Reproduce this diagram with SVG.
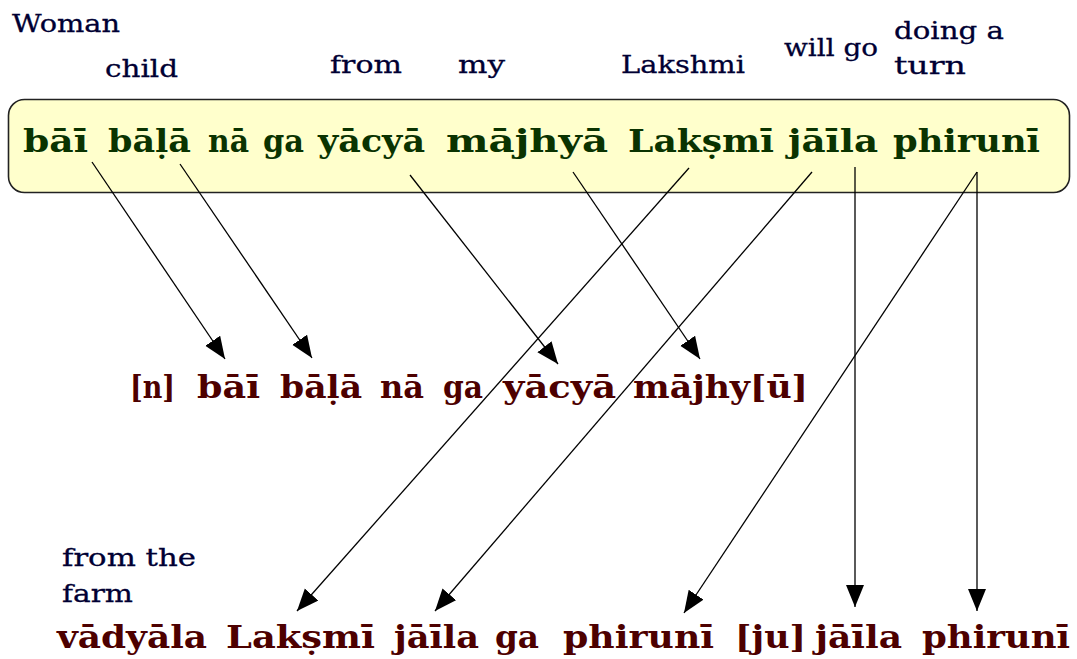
<svg xmlns="http://www.w3.org/2000/svg" width="1077" height="659" viewBox="0 0 1077 659">
<style>
.lbl{font-family:"DejaVu Serif","Liberation Serif",serif;font-size:25px;fill:#000033;stroke:#000033;stroke-width:0.3;}
.row text{font-family:"DejaVu Serif","Liberation Serif",serif;font-size:32px;font-weight:bold;}
.top text{fill:#0a3300;}
.red text{fill:#4d0000;}
.ln{stroke:#000;stroke-width:1.3;fill:none;marker-end:url(#ah);}
</style>
<defs>
<marker id="ah" markerUnits="userSpaceOnUse" markerWidth="24" markerHeight="20" refX="22" refY="9" orient="auto">
<path d="M0,0 L22,9 L0,18 Z" fill="#000"/>
</marker>
</defs>
<rect width="1077" height="659" fill="#fff"/>
<g id="box" class="row top">
<rect x="8.5" y="99.5" width="1061" height="93" rx="16" ry="16" fill="#ffffcc" stroke="#222" stroke-width="1.6"/>
<text x="23" y="152" textLength="65" lengthAdjust="spacingAndGlyphs">bāī</text>
<text x="108" y="152" textLength="83" lengthAdjust="spacingAndGlyphs">bāḷā</text>
<text x="208" y="152" textLength="41" lengthAdjust="spacingAndGlyphs">nā</text>
<text x="263" y="152" textLength="41" lengthAdjust="spacingAndGlyphs">ga</text>
<text x="318" y="152" textLength="107" lengthAdjust="spacingAndGlyphs">yācyā</text>
<text x="446" y="152" textLength="162" lengthAdjust="spacingAndGlyphs">mājhyā</text>
<text x="628" y="152" textLength="146" lengthAdjust="spacingAndGlyphs">Lakṣmī</text>
<text x="788" y="152" textLength="90" lengthAdjust="spacingAndGlyphs">jāīla</text>
<text x="893" y="152" textLength="147" lengthAdjust="spacingAndGlyphs">phirunī</text>
</g>
<g id="labels">
<text class="lbl" x="12" y="32" textLength="108" lengthAdjust="spacingAndGlyphs">Woman</text>
<text class="lbl" x="105" y="77" textLength="73" lengthAdjust="spacingAndGlyphs">child</text>
<text class="lbl" x="330" y="73" textLength="72" lengthAdjust="spacingAndGlyphs">from</text>
<text class="lbl" x="458" y="73" textLength="47" lengthAdjust="spacingAndGlyphs">my</text>
<text class="lbl" x="621" y="73" textLength="124" lengthAdjust="spacingAndGlyphs">Lakshmi</text>
<text class="lbl" x="784" y="56" textLength="94" lengthAdjust="spacingAndGlyphs">will go</text>
<text class="lbl" x="894" y="39" textLength="110" lengthAdjust="spacingAndGlyphs">doing a</text>
<text class="lbl" x="894" y="74" textLength="72" lengthAdjust="spacingAndGlyphs">turn</text>
<text class="lbl" x="62" y="566" textLength="134" lengthAdjust="spacingAndGlyphs">from the</text>
<text class="lbl" x="62" y="602" textLength="71" lengthAdjust="spacingAndGlyphs">farm</text>
</g>
<g id="middle" class="row red">
<text x="130" y="398" textLength="45" lengthAdjust="spacingAndGlyphs">[n]</text>
<text x="197" y="398" textLength="63" lengthAdjust="spacingAndGlyphs">bāī</text>
<text x="280" y="398" textLength="82" lengthAdjust="spacingAndGlyphs">bāḷā</text>
<text x="380" y="398" textLength="44" lengthAdjust="spacingAndGlyphs">nā</text>
<text x="443" y="398" textLength="40" lengthAdjust="spacingAndGlyphs">ga</text>
<text x="503" y="398" textLength="113" lengthAdjust="spacingAndGlyphs">yācyā</text>
<text x="633" y="398" textLength="175" lengthAdjust="spacingAndGlyphs">mājhy[ū]</text>
</g>
<g id="bottom" class="row red">
<text x="57" y="648" textLength="150" lengthAdjust="spacingAndGlyphs">vādyāla</text>
<text x="226" y="648" textLength="149" lengthAdjust="spacingAndGlyphs">Lakṣmī</text>
<text x="394" y="648" textLength="85" lengthAdjust="spacingAndGlyphs">jāīla</text>
<text x="495" y="648" textLength="44" lengthAdjust="spacingAndGlyphs">ga</text>
<text x="563" y="648" textLength="151" lengthAdjust="spacingAndGlyphs">phirunī</text>
<text x="735" y="648" textLength="71" lengthAdjust="spacingAndGlyphs">[ju]</text>
<text x="815" y="648" textLength="87" lengthAdjust="spacingAndGlyphs">jāīla</text>
<text x="922" y="648" textLength="148" lengthAdjust="spacingAndGlyphs">phirunī</text>
</g>
<g id="connectors">
<path class="ln" d="M92,162 L225,359"/>
<path class="ln" d="M180,164 L312,358"/>
<path class="ln" d="M410,175 L558,364"/>
<path class="ln" d="M573,172 L700,359"/>
<path class="ln" d="M689,168 L297,611"/>
<path class="ln" d="M812,172 L435,611"/>
<path class="ln" d="M855,167 L855,607"/>
<path class="ln" d="M977,172 L684,613"/>
<path class="ln" d="M977,172 L977,611"/>
</g>
</svg>
